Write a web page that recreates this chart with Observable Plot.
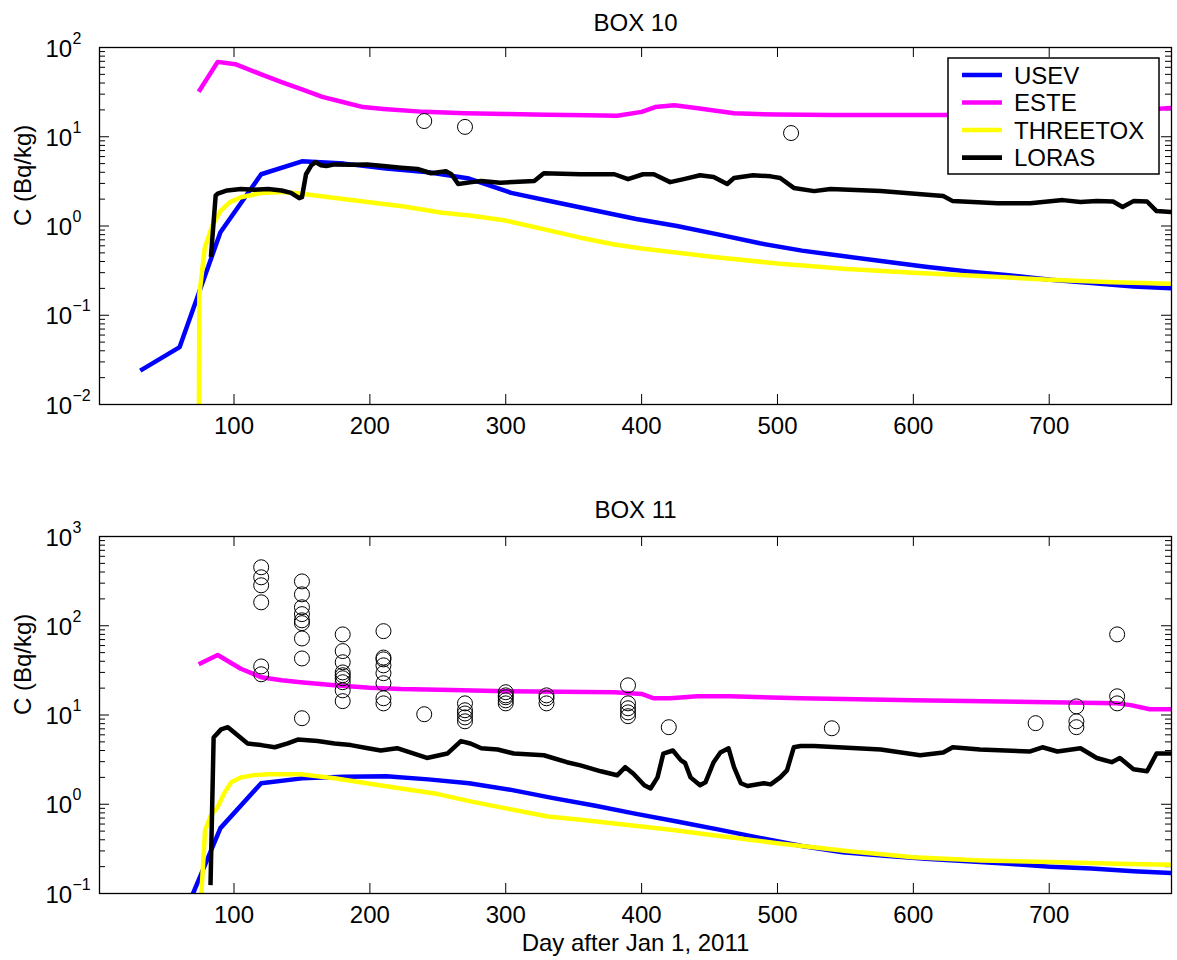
<!DOCTYPE html>
<html><head><meta charset="utf-8">
<script src="https://cdn.jsdelivr.net/npm/d3@7"></script>
<script src="https://cdn.jsdelivr.net/npm/@observablehq/plot@0.6"></script>
<style>
html,body{margin:0;padding:0;background:#fff;overflow:hidden;}
#fig{position:relative;width:1177px;height:960px;font-family:"Liberation Sans",Arial,Helvetica,sans-serif;}
#fig svg{display:block;}
#legend{position:absolute;left:0;top:0;pointer-events:none;}
</style></head><body><div id="fig"></div>
<script>
// ---------- data ----------
const seriesNames = ["USEV", "ESTE", "THREETOX", "LORAS"];
const seriesColors = ["#0000ff", "#ff00ff", "#ffff00", "#000000"];
const xTicks = [100, 200, 300, 400, 500, 600, 700];
const box10Decades = [-2, -1, 0, 1, 2];
const box11Decades = [-1, 0, 1, 2, 3];

// BOX 10
const b10UsevDay = [31,60,90,120,150,181,212,243,273,304,334,365,396,426,457,487,518,548,579,609,640,670,701,731,762,790];
const b10UsevC   = [0.024,0.044,0.85,3.8,5.3,5.0,4.4,4.0,3.4,2.35,1.88,1.5,1.2,1.0,0.8,0.64,0.53,0.46,0.40,0.35,0.31,0.28,0.25,0.23,0.21,0.20];
const b10EsteDay = [74,88,101,120,135,150,165,180,195,210,240,270,300,330,360,382,400,410,424,440,468,500,540,620,700,760,775,790];
const b10EsteC   = [32,69,65,50,41,34,28,24.5,21.5,20.5,19,18.3,18,17.6,17.4,17.2,19,21.5,22.5,21,18.3,17.7,17.5,17.5,17.8,19.5,20.3,21];
const b10ThreeDay = [73.9,74.5,78.5,84,90,97,105,120,135,150,170,200,225,252,275,300,331,355,380,400,453,500,551,600,649,700,747,790];
const b10ThreeC   = [0.001,0.17,0.57,1.0,1.47,1.85,2.1,2.34,2.4,2.3,2.1,1.85,1.65,1.42,1.3,1.15,0.9,0.74,0.62,0.56,0.45,0.38,0.33,0.30,0.275,0.25,0.235,0.225];
const b10LorasDay = [83,86.5,88,95,105,115,125,135,142,148,150,153,157,160,164,168,174,185,198,210,223,235,245,256,260,265,275,282,296,321,328,355,380,390,401,409,421,431,443,453,463,468,482,495,502,512,527,539,576,622,629,662,686,710,723,735,747,754,762,772,779,790];
const b10LorasC   = [0.45,2.2,2.3,2.5,2.6,2.55,2.6,2.5,2.35,2.05,2.1,3.8,4.8,5.2,4.8,4.7,4.9,4.85,4.9,4.7,4.5,4.35,3.9,4.1,3.8,2.95,3.1,3.2,3.05,3.2,3.9,3.8,3.8,3.35,3.8,3.8,3.1,3.35,3.7,3.55,2.96,3.45,3.7,3.6,3.45,2.67,2.46,2.6,2.46,2.17,1.9,1.8,1.8,1.95,1.86,1.9,1.88,1.63,1.9,1.88,1.47,1.43];
const b10ObsDay = [240, 270, 510];
const b10ObsC   = [15, 12.9, 11];

// BOX 11
const b11UsevDay = [31,60,90,120,150,181,212,243,273,304,334,365,396,426,457,487,518,548,579,609,640,670,701,731,762,790];
const b11UsevC   = [0.024,0.044,0.54,1.72,1.95,2.03,2.06,1.9,1.72,1.45,1.18,0.97,0.78,0.64,0.52,0.42,0.34,0.29,0.265,0.245,0.23,0.215,0.2,0.19,0.178,0.17];
const b11EsteDay = [74,88,105,120,135,149,174,200,223,260,300,340,380,400,409,421,441,465,517,600,700,750,760,774,790];
const b11EsteC   = [37,47,33,26.5,24.5,23.3,21.5,20.2,19.5,19,18.5,18.2,18,17.2,15.4,15.4,16.2,16.2,15.4,14.6,13.9,13.5,12.9,11.6,11.6];
const b11ThreeDay = [74,76,78.7,83,88,93,98,105,115,125,149,174,200,223,250,275,300,331,355,380,420,453,500,551,600,650,700,750,790];
const b11ThreeC   = [0.01,0.1,0.51,0.75,0.93,1.35,1.76,2.0,2.12,2.17,2.17,1.96,1.7,1.5,1.3,1.07,0.9,0.73,0.67,0.61,0.52,0.45,0.365,0.3,0.255,0.235,0.225,0.215,0.21];
const b11LorasDay = [82.7,85,90.5,95.5,100,110,120,130,139.5,147,161.5,174,186,198.5,208,220,242,257,267,274,282,294,306,328,345,355,370,382,388,394,402,406.6,411.7,416,423,429,432,436,443,447,453,458,464,468,473,478,490,495,502,507,512,517,527,576,605,622,629,649,686,695,706,723,735,746,752,762,772,779,790];
const b11LorasC   = [0.124,5.6,6.9,7.3,6.4,4.8,4.6,4.35,4.8,5.3,5.1,4.8,4.6,4.24,4.0,4.25,3.3,3.7,5.1,4.8,4.24,4.1,3.7,3.54,2.96,2.73,2.34,2.11,2.6,2.2,1.63,1.5,2.0,3.7,4.0,3.1,2.9,2.0,1.63,1.76,2.96,3.8,4.24,2.6,1.72,1.6,1.72,1.67,2.0,2.4,4.35,4.5,4.5,4.1,3.54,3.8,4.35,4.1,3.9,4.35,3.9,4.24,3.3,2.96,3.3,2.47,2.34,3.7,3.7];
const b11ObsDay = [120,120,120,120,120,120, 150,150,150,150,150,150,150,150,150, 180,180,180,180,180,180,180,180,180, 210,210,210,210,210,210,210,210, 240, 270,270,270,270,270, 300,300,300,300,300, 330,330,330, 390,390,390,390,390, 420, 540, 690, 720,720,720, 750,750,750];
const b11ObsC   = [452,349,284,183,35,28.6, 314,225,161,135,115,107,72,43,9.2, 80,52,39,30,27.9,25.8,23.3,18.9,14.3, 87,44,42,36,29.4,22.7,15.4,13.5, 10.2, 13.5,11.3,10.4,9.4,8.5, 18,16.6,15.8,14.6,13.5, 16.6,15.4,13.5, 21.5,13.5,11.9,10.7,9.7, 7.3, 7.1, 8.1, 12.5,8.5,7.3, 80,16.2,13.5];

// ---------- drawing ----------
const W = 1177, ML = 99, MR = 6;
const FONT = '"Liberation Sans", Arial, Helvetica, sans-serif';

function panel(cfg) {
  const frameW = W - ML - MR;
  const frameH = cfg.height - cfg.marginTop - cfg.marginBottom;
  const dec = cfg.decades;
  const majorY = dec.map(k => Math.pow(10, k));
  const minorY = dec.slice(0, -1).flatMap(k => d3.range(2, 10).map(m => m * Math.pow(10, k)));
  const tk = {stroke: "black", strokeWidth: 1};
  const marks = [
    Plot.ruleY(majorY, {y: d => d, insetRight: frameW - 10, ...tk}),
    Plot.ruleY(majorY, {y: d => d, insetLeft: frameW - 10, ...tk}),
    Plot.ruleY(minorY, {y: d => d, insetRight: frameW - 6, ...tk}),
    Plot.ruleY(minorY, {y: d => d, insetLeft: frameW - 6, ...tk}),
    Plot.ruleX(xTicks, {x: d => d, insetTop: frameH - 10, ...tk}),
    Plot.ruleX(xTicks, {x: d => d, insetBottom: frameH - 10, ...tk})
  ];
  cfg.series.forEach((s, i) => {
    marks.push(Plot.line(s.c, {x: s.day, y: s.c, stroke: seriesColors[i], strokeWidth: 4.5,
      strokeLinejoin: "round", strokeLinecap: "butt", clip: true}));
  });
  marks.push(Plot.dot(cfg.obsC, {x: cfg.obsDay, y: cfg.obsC, r: 7.5, stroke: "black", strokeWidth: 1, fill: "none", clip: true}));
  marks.push(Plot.frame({stroke: "black", strokeWidth: 1.3}));
  marks.push(Plot.axisX(xTicks, {tickSize: 0, tickPadding: 12, label: null, tickFormat: d => String(d), fontSize: 24}));
  marks.push(Plot.text(dec, {y: k => Math.pow(10, k), text: () => "10", frameAnchor: "left",
    dx: -54, dy: 9, textAnchor: "start", lineAnchor: "bottom", fontSize: 24}));
  marks.push(Plot.text(dec, {y: k => Math.pow(10, k), text: k => (k < 0 ? "\u2212" + (-k) : String(k)),
    frameAnchor: "left", dx: -27, dy: -4, textAnchor: "start", lineAnchor: "bottom", fontSize: 16}));
  marks.push(Plot.text(["C (Bq/kg)"], {text: d => d, frameAnchor: "left", rotate: -90, dx: -68.5,
    lineAnchor: "bottom", fontSize: 24}));
  marks.push(Plot.text([cfg.title], {text: d => d, frameAnchor: "top", lineAnchor: "bottom",
    dy: cfg.titleBaseline - cfg.marginTop, fontSize: 24}));
  if (cfg.xLabel) {
    marks.push(Plot.text([cfg.xLabel], {text: d => d, frameAnchor: "bottom", lineAnchor: "bottom",
      dy: cfg.xLabelBaseline, fontSize: 24}));
  }
  return Plot.plot({
    width: W, height: cfg.height,
    marginLeft: ML, marginRight: MR, marginTop: cfg.marginTop, marginBottom: cfg.marginBottom,
    x: {domain: [1, 790], axis: null},
    y: {type: "log", domain: [Math.pow(10, dec[0]), Math.pow(10, dec[dec.length - 1])], axis: null},
    style: {fontFamily: FONT, fontSize: "24px", background: "white", color: "black", overflow: "visible"},
    marks
  });
}

const fig = document.getElementById("fig");
fig.appendChild(panel({
  title: "BOX 10", titleBaseline: 30, height: 470, marginTop: 47, marginBottom: 66,
  decades: box10Decades,
  series: [
    {day: b10UsevDay, c: b10UsevC}, {day: b10EsteDay, c: b10EsteC},
    {day: b10ThreeDay, c: b10ThreeC}, {day: b10LorasDay, c: b10LorasC}
  ],
  obsDay: b10ObsDay, obsC: b10ObsC
}));
fig.appendChild(panel({
  title: "BOX 11", titleBaseline: 47, height: 490, marginTop: 66, marginBottom: 67,
  decades: box11Decades,
  series: [
    {day: b11UsevDay, c: b11UsevC}, {day: b11EsteDay, c: b11EsteC},
    {day: b11ThreeDay, c: b11ThreeC}, {day: b11LorasDay, c: b11LorasC}
  ],
  obsDay: b11ObsDay, obsC: b11ObsC,
  xLabel: "Day after Jan 1, 2011", xLabelBaseline: 57
}));

// legend (overlay on the top panel)
const leg = d3.select(fig).append("svg").attr("id", "legend").attr("width", W).attr("height", 470)
  .style("font-family", FONT);
leg.append("rect").attr("x", 948).attr("y", 58).attr("width", 211).attr("height", 116)
  .attr("fill", "white").attr("stroke", "black").attr("stroke-width", 1.5);
const rowY = [75, 102.5, 130, 157.7];
seriesNames.forEach((n, i) => {
  leg.append("line").attr("x1", 962).attr("x2", 1002).attr("y1", rowY[i]).attr("y2", rowY[i])
    .attr("stroke", seriesColors[i]).attr("stroke-width", 4.7);
  leg.append("text").attr("x", 1014).attr("y", rowY[i] + 8.5).attr("font-size", 24).attr("fill", "black").text(n);
});
</script></body></html>
